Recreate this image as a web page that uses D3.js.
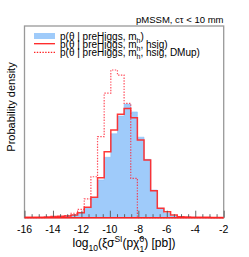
<!DOCTYPE html>
<html>
<head>
<meta charset="utf-8">
<script src="https://cdn.jsdelivr.net/npm/d3@7"></script>
<style>
  body { margin: 0; background: #fff; }
  text { font-family: "Liberation Sans", Arial, Helvetica, sans-serif; }
</style>
</head>
<body>
<svg id="chart" width="249" height="257"></svg>
<script>
// histogram range and binning
var xRange = [-16, -2]
var nBins = 30
var yMax = 0.562

// bin contents (30 bins from -16 to -2)
var preHiggs = [0, 0, 0.001, 0.0015, 0.002, 0.003, 0.0044, 0.008, 0.013, 0.0276,
  0.057, 0.1105, 0.177, 0.246, 0.298, 0.333, 0.31, 0.236, 0.171, 0.081,
  0.0276, 0.013, 0.0053, 0.0023, 0.0015, 0.001, 0.0006, 0, 0, 0]
var hsig = [0.001, 0.0015, 0.0015, 0.0023, 0.0035, 0.0044, 0.005, 0.008, 0.0147, 0.031,
  0.06, 0.117, 0.193, 0.257, 0.303, 0.32, 0.293, 0.228, 0.169, 0.079,
  0.0276, 0.0176, 0.008, 0.003, 0.002, 0.0015, 0.001, 0.001, 0.0006, 0.0006]
var dmUp = [0, 0, 0, 0.001, 0.002, 0.003, 0.006, 0.013, 0.0246, 0.055,
  0.12, 0.2375, 0.365, 0.433, 0.418, 0.335, 0.1155, 0, 0, 0,
  0, 0, 0, 0, 0, 0, 0, 0, 0, 0]

var xMajorTicks = [-16, -14, -12, -10, -8, -6, -4, -2]
var topLabel = 'pMSSM, c\u03c4 < 10 mm'

var svg = d3.select('#chart')
var pLeft = 24.5, pRight = 223.7, pTop = 26, pBottom = 217.7

var x = d3.scaleLinear().domain(xRange).range([pLeft, pRight])
var y = d3.scaleLinear().domain([0, yMax]).range([pBottom, pTop])

var binW = (xRange[1] - xRange[0]) / nBins
function steps (vals) {
  var pts = vals.map(function (v, i) { return { e: xRange[0] + i * binW, v: v } })
  pts.push({ e: xRange[1], v: vals[vals.length - 1] })
  return pts
}

/** blue filled histogram */
var area = d3.area().curve(d3.curveStepAfter)
  .x(function (d) { return x(d.e) }).y0(pBottom).y1(function (d) { return y(d.v) })
svg.append('path').attr('d', area(steps(preHiggs)))
  .attr('fill', '#9fcbfa').attr('stroke', '#8fbff5').attr('stroke-width', 0.6)

var line = d3.line().curve(d3.curveStepAfter)
  .x(function (d) { return x(d.e) }).y(function (d) { return y(d.v) })

/** dotted: DMup */
svg.append('path').attr('d', line(steps(dmUp)))
  .attr('fill', 'none').attr('stroke', '#f23').attr('stroke-opacity', 0.8)
  .attr('stroke-width', 1.2).attr('stroke-dasharray', '1.4,1.4')

/** solid: hsig */
svg.append('path').attr('d', line(steps(hsig)))
  .attr('fill', 'none').attr('stroke', '#f22').attr('stroke-opacity', 0.9)
  .attr('stroke-width', 1.5)

/** frame */
svg.append('rect').attr('x', pLeft).attr('y', pTop).attr('width', pRight - pLeft).attr('height', pBottom - pTop)
  .attr('fill', 'none').attr('stroke', '#999').attr('stroke-width', 1.3)

/** bottom axis, ticks pointing inward */
var xAxis = d3.axisBottom(x).tickValues(d3.range(xRange[0], xRange[1] + 0.01, 0.5))
  .tickSize(0).tickFormat('')
var gx = svg.append('g').attr('transform', 'translate(0,' + pBottom + ')').call(xAxis)
gx.select('.domain').remove()
gx.selectAll('.tick line')
  .attr('y2', function (d) { return xMajorTicks.indexOf(d) >= 0 ? -7 : -3.5 })
  .attr('stroke', '#555').attr('stroke-width', 0.9)
svg.selectAll('.xlab').data(xMajorTicks).enter().append('text')
  .attr('x', function (d) { return x(d) }).attr('y', 233)
  .attr('text-anchor', 'middle').attr('font-size', 10.5).attr('fill', '#000')
  .text(function (d) { return String(d) })
// redraw red baseline over the ticks
svg.append('line').attr('x1', pLeft).attr('x2', pRight).attr('y1', pBottom).attr('y2', pBottom)
  .attr('stroke', '#f22').attr('stroke-width', 1.5)

/** axis titles */
var xt = svg.append('text').attr('x', 124).attr('y', 247).attr('text-anchor', 'middle').attr('font-size', 12)
xt.append('tspan').text('log')
xt.append('tspan').attr('font-size', 8.5).attr('dy', 4).text('10')
xt.append('tspan').attr('dy', -4).text('(\u03be\u03c3')
xt.append('tspan').attr('font-size', 8.5).attr('dy', -5).text('SI')
xt.append('tspan').attr('dy', 5).text('(p\u03c7\u0303')
xt.append('tspan').attr('font-size', 8.5).attr('dy', -5).text('0')
xt.append('tspan').attr('font-size', 8.5).attr('dx', -4.7).attr('dy', 10).text('1')
xt.append('tspan').attr('dy', -5).text(') [pb])')

svg.append('text').attr('transform', 'translate(15,107) rotate(-90)')
  .attr('text-anchor', 'middle').attr('font-size', 11).text('Probability density')

svg.append('text').attr('x', 223.5).attr('y', 23).attr('text-anchor', 'end')
  .attr('font-size', 9.5).text(topLabel)

/** legend */
var legendY = [36, 44, 52]
svg.append('rect').attr('x', 34).attr('y', 33).attr('width', 21).attr('height', 6).attr('fill', '#9fcbfa')
svg.append('line').attr('x1', 34).attr('x2', 55).attr('y1', 43.7).attr('y2', 43.7)
  .attr('stroke', '#f22').attr('stroke-width', 1.3)
svg.append('line').attr('x1', 34).attr('x2', 55).attr('y1', 52.3).attr('y2', 52.3)
  .attr('stroke', '#f22').attr('stroke-width', 1.2).attr('stroke-dasharray', '1.4,1.4')
var legendTails = [')', ', hsig)', ', hsig, DMup)']
legendTails.forEach(function (tail, j) {
  var t = svg.append('text').attr('x', 60).attr('y', legendY[j] + 3.5).attr('font-size', 10)
  t.append('tspan').text('p(\u03b8 | preHiggs, m')
  t.append('tspan').attr('font-size', 7).attr('dy', 3.5).text('h')
  t.append('tspan').attr('dy', -3.5).text(tail)
})
</script>
</body>
</html>
